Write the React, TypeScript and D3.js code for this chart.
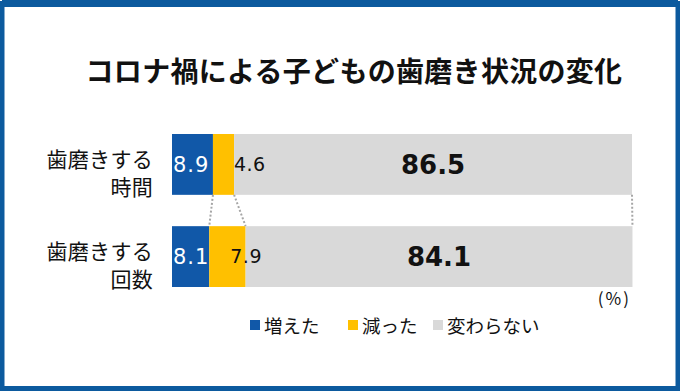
import React from "react";
import * as d3 from "d3";

const title = "コロナ禍による子どもの歯磨き状況の変化";
const categoryLines = [["歯磨きする", "時間"], ["歯磨きする", "回数"]];
const categories = ["時間", "回数"];
const increased = [8.9, 8.1];
const decreased = [4.6, 7.9];
const unchanged = [86.5, 84.1];
const seriesNames = ["増えた", "減った", "変わらない"];
const unitLabel = "(%)";

const W = 680;
const H = 391;
const FONT = "'Noto Sans CJK JP', 'Noto Sans', sans-serif";
const NUMFONT = "'DejaVu Sans', 'Noto Sans', sans-serif";
const COLORS = ["#1158A8", "#FFC000", "#D9D9D9"];

export default function App() {
  const x = d3.scaleLinear().domain([0, 100]).range([172, 632]);
  const y = d3.scaleBand().domain(categories).range([134, 287]).paddingInner(0.34).paddingOuter(0);
  const bh = y.bandwidth();

  const rows = categories.map((c, i) => {
    const vals = [increased[i], decreased[i], unchanged[i]];
    const stack: { x0: number; x1: number; v: number; k: number }[] = [];
    let acc = 0;
    vals.forEach((v, k) => {
      stack.push({ x0: acc, x1: acc + v, v, k });
      acc += v;
    });
    return { c, i, stack };
  });

  const connectors: { xa: number; xb: number }[] = [];
  for (let k = 0; k < 3; k++) {
    connectors.push({ xa: rows[0].stack[k].x1, xb: rows[1].stack[k].x1 });
  }

  const legendX = [250, 348, 433];

  return (
    <svg width={W} height={H} style={{ position: "absolute", left: 0, top: 0 }} fontFamily={FONT}>
      <rect x={0} y={0} width={W} height={H} fill="#ffffff" />
      <rect x={2} y={3.5} width={W - 4} height={H - 6} fill="none" stroke="#0C5A9E" strokeWidth={5} />
      <rect x={2} y={0} width={W - 4} height={7} fill="#0C5A9E" />
      <text x={354} y={82} textAnchor="middle" fontSize={28} fontWeight="bold" fill="#111" letterSpacing={0.3}>
        {title}
      </text>

      {rows.map((r) => {
        const y0 = y(r.c)!;
        return (
          <g key={r.c}>
            {r.stack.map((s) => (
              <rect key={s.k} x={x(s.x0)} y={y0} width={x(s.x1) - x(s.x0)} height={bh} fill={COLORS[s.k]} />
            ))}
            <text x={x(0) + 1} y={y0 + bh / 2} dy="0.36em" fontSize={21} fontFamily={NUMFONT} letterSpacing={1} fill="#fff">
              {d3.format(".1f")(r.stack[0].v)}
            </text>
            <text x={x(r.stack[0].x1) + 21} y={y0 + bh / 2} dy="0.36em" fontSize={19} fontFamily={NUMFONT} letterSpacing={0.5} fill="#111">
              {d3.format(".1f")(r.stack[1].v)}
            </text>
            <text
              x={(x(r.stack[2].x0) + x(r.stack[2].x1)) / 2}
              y={y0 + bh / 2}
              dy="0.36em"
              textAnchor="middle"
              fontSize={26}
              fontFamily={NUMFONT}
              fontWeight="bold"
              fill="#111"
            >
              {d3.format(".1f")(r.stack[2].v)}
            </text>
            <text x={153} y={y0 + 33} textAnchor="end" fontSize={21} letterSpacing={0.3} fill="#111">
              {categoryLines[r.i][0]}
            </text>
            <text x={153} y={y0 + 61} textAnchor="end" fontSize={21} letterSpacing={0.3} fill="#111">
              {categoryLines[r.i][1]}
            </text>
          </g>
        );
      })}

      {connectors.map((cn, k) => (
        <line
          key={k}
          x1={x(cn.xa)}
          y1={y(categories[0])! + bh}
          x2={x(cn.xb)}
          y2={y(categories[1])!}
          stroke="#A6A6A6"
          strokeWidth={2}
          strokeDasharray="2 2"
        />
      ))}

      <text x={631} y={305} textAnchor="end" fontSize={17} letterSpacing={2} fill="#111">
        {unitLabel}
      </text>

      {seriesNames.map((n, k) => (
        <g key={n}>
          <rect x={legendX[k]} y={320} width={10} height={10} fill={COLORS[k]} />
          <text x={legendX[k] + 14} y={333} fontSize={18.5} fill="#111">
            {n}
          </text>
        </g>
      ))}
    </svg>
  );
}
